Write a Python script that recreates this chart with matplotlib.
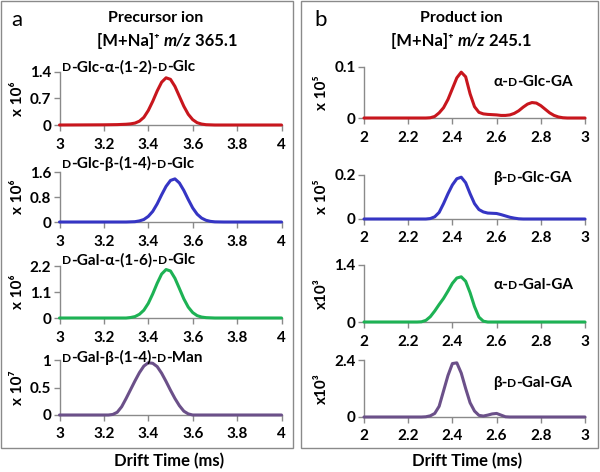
import matplotlib
matplotlib.use("Agg")
import matplotlib.pyplot as plt
from matplotlib.patches import Rectangle
from matplotlib.offsetbox import TextArea, HPacker, AnnotationBbox

plt.rcParams['font.family'] = ['Lato', 'DejaVu Sans']

W, H = 600, 472

# ---------------- data ----------------
# Panel a: precursor ion, drift time (ms) vs intensity
a1_x = [3.00, 3.20, 3.26, 3.30, 3.32, 3.34, 3.36, 3.38, 3.40, 3.42, 3.44, 3.46, 3.48, 3.50, 3.52, 3.54, 3.56, 3.58, 3.60, 3.62, 3.64, 3.66, 3.70, 4.00]
a1_y = [0.0, 0.005, 0.01, 0.02, 0.03, 0.05, 0.10, 0.20, 0.38, 0.62, 0.89, 1.12, 1.235, 1.195, 1.01, 0.75, 0.49, 0.28, 0.14, 0.06, 0.025, 0.008, 0.0, 0.0]

a2_x = [3.00, 3.30, 3.34, 3.36, 3.38, 3.40, 3.42, 3.44, 3.46, 3.48, 3.50, 3.52, 3.54, 3.56, 3.58, 3.60, 3.62, 3.64, 3.66, 3.68, 3.70, 3.74, 4.00]
a2_y = [0.0, 0.0, 0.01, 0.035, 0.08, 0.18, 0.34, 0.58, 0.87, 1.14, 1.33, 1.38, 1.25, 1.01, 0.72, 0.45, 0.25, 0.125, 0.055, 0.02, 0.005, 0.0, 0.0]

a3_x = [3.00, 3.30, 3.32, 3.34, 3.36, 3.38, 3.40, 3.42, 3.44, 3.46, 3.48, 3.50, 3.52, 3.54, 3.56, 3.58, 3.60, 3.62, 3.64, 3.66, 3.70, 4.00]
a3_y = [0.0, 0.0, 0.02, 0.06, 0.157, 0.33, 0.62, 1.02, 1.47, 1.86, 2.05, 1.99, 1.68, 1.25, 0.81, 0.46, 0.23, 0.10, 0.04, 0.015, 0.0, 0.0]

a4_x = [3.00, 3.22, 3.24, 3.26, 3.28, 3.30, 3.32, 3.34, 3.36, 3.38, 3.40, 3.42, 3.44, 3.46, 3.48, 3.50, 3.52, 3.54, 3.56, 3.58, 3.60, 4.00]
a4_y = [0.0, 0.0, 0.01, 0.05, 0.15, 0.30, 0.46, 0.62, 0.77, 0.89, 0.95, 0.94, 0.88, 0.76, 0.61, 0.45, 0.30, 0.17, 0.07, 0.02, 0.0, 0.0]

# Panel b: product ion
b1_x = [2.00, 2.28, 2.30, 2.32, 2.34, 2.36, 2.38, 2.40, 2.42, 2.44, 2.46, 2.48, 2.50, 2.52, 2.54, 2.56, 2.58, 2.60, 2.62, 2.64, 2.66, 2.68, 2.70, 2.72, 2.74, 2.76, 2.78, 2.80, 2.82, 2.84, 2.86, 2.88, 2.90, 2.92, 3.00]
b1_y = [0.0, 0.0, 0.0005, 0.003, 0.01, 0.02, 0.036, 0.057, 0.078, 0.089, 0.08, 0.047, 0.022, 0.011, 0.008, 0.007, 0.0065, 0.006, 0.005, 0.005, 0.006, 0.009, 0.014, 0.021, 0.027, 0.030, 0.029, 0.024, 0.017, 0.010, 0.005, 0.002, 0.0005, 0.0, 0.0]

b2_x = [2.00, 2.28, 2.30, 2.32, 2.34, 2.36, 2.38, 2.40, 2.42, 2.44, 2.46, 2.48, 2.50, 2.52, 2.54, 2.56, 2.58, 2.60, 2.62, 2.64, 2.66, 2.68, 2.70, 2.72, 3.00]
b2_y = [0.0, 0.0, 0.002, 0.01, 0.03, 0.07, 0.115, 0.155, 0.183, 0.19, 0.165, 0.115, 0.07, 0.043, 0.032, 0.027, 0.026, 0.025, 0.02, 0.014, 0.008, 0.004, 0.001, 0.0, 0.0]

b3_x = [2.00, 2.24, 2.26, 2.28, 2.30, 2.32, 2.34, 2.36, 2.38, 2.40, 2.42, 2.44, 2.46, 2.48, 2.50, 2.52, 2.54, 2.56, 3.00]
b3_y = [0.0, 0.0, 0.005, 0.04, 0.13, 0.27, 0.43, 0.58, 0.76, 0.95, 1.08, 1.11, 1.00, 0.72, 0.38, 0.12, 0.02, 0.0, 0.0]

b4_x = [2.00, 2.26, 2.28, 2.30, 2.32, 2.34, 2.36, 2.38, 2.40, 2.42, 2.44, 2.46, 2.48, 2.50, 2.52, 2.54, 2.56, 2.58, 2.60, 2.62, 2.64, 2.66, 3.00]
b4_y = [0.0, 0.0, 0.01, 0.05, 0.15, 0.45, 1.10, 1.75, 2.25, 2.28, 1.85, 1.20, 0.60, 0.25, 0.07, 0.04, 0.08, 0.13, 0.15, 0.08, 0.01, 0.0, 0.0]

a_xticks = [3, 3.2, 3.4, 3.6, 3.8, 4]
a_xticklabels = ["3", "3.2", "3.4", "3.6", "3.8", "4"]
b_xticks = [2, 2.2, 2.4, 2.6, 2.8, 3]
b_xticklabels = ["2", "2.2", "2.4", "2.6", "2.8", "3"]

a_yticks = [[0, 0.7, 1.4], [0, 0.8, 1.6], [0, 1.1, 2.2], [0, 0.5, 1]]
a_yticklabels = [["0", "0.7", "1.4"], ["0", "0.8", "1.6"], ["0", "1.1", "2.2"], ["0", "0.5", "1"]]
b_yticks = [[0, 0.1], [0, 0.2], [0, 1.4], [0, 2.4]]
b_yticklabels = [["0", "0.1"], ["0", "0.2"], ["0", "1.4"], ["0", "2.4"]]

a_units = ["x 10\u2076", "x 10\u2076", "x 10\u2076", "x 10\u2077"]
b_units = ["x 10\u2075", "x 10\u2075", "x10\u00b3", "x10\u00b3"]

# labels: list of (text, smallcap?) pieces
a_names = [
    [("D", True), ("-Glc-\u03b1-(1-2)-", False), ("D", True), ("-Glc", False)],
    [("D", True), ("-Glc-\u03b2-(1-4)-", False), ("D", True), ("-Glc", False)],
    [("D", True), ("-Gal-\u03b1-(1-6)-", False), ("D", True), ("-Glc", False)],
    [("D", True), ("-Gal-\u03b2-(1-4)-", False), ("D", True), ("-Man", False)],
]
b_names = [
    [("\u03b1-", False), ("D", True), ("-Glc-GA", False)],
    [("\u03b2-", False), ("D", True), ("-Glc-GA", False)],
    [("\u03b1-", False), ("D", True), ("-Gal-GA", False)],
    [("\u03b2-", False), ("D", True), ("-Gal-GA", False)],
]

colors = ["#C8161D", "#3535C4", "#1DB254", "#6B5089"]

a_series = [(a1_x, a1_y), (a2_x, a2_y), (a3_x, a3_y), (a4_x, a4_y)]
b_series = [(b1_x, b1_y), (b2_x, b2_y), (b3_x, b3_y), (b4_x, b4_y)]

# ---------------- layout (pixel positions) ----------------
a_left, a_right = 59.5, 281.5
b_left, b_right = 364, 585
a_rows = [(71.5, 125), (172, 222), (266, 318), (360, 415)]
b_rows = [(66.5, 118), (175, 219), (265, 322), (360, 417)]
a_name_pos = [(62, 67), (62, 163), (62, 260), (62, 357)]
b_name_pos = [(493, 82), (493, 178), (493, 285), (493, 383)]

GRAY = "#8a8a8a"
FAM = ['Lato', 'DejaVu Sans']
fig = plt.figure(figsize=(W / 100, H / 100), dpi=100)


def fx(x):
    return x / W


def fy(y):
    return 1 - y / H


def rich(x, y, parts, size, ha=0.0):
    kids = []
    for t, sc in parts:
        kids.append(TextArea(t, textprops=dict(fontsize=size * (0.78 if sc else 1.0),
                                               fontweight='bold', color='black',
                                               family=FAM)))
    box = HPacker(children=kids, align='baseline', pad=0, sep=0)
    ab = AnnotationBbox(box, (fx(x), fy(y)), xycoords='figure fraction',
                        box_alignment=(ha, 0.5), frameon=False, pad=0)
    fig.add_artist(ab)


def make_axes(left, right, top, bottom, xs, ys, color, xticks, xtl, yticks, ytl):
    ax = fig.add_axes([fx(left), fy(bottom), (right - left) / W, (bottom - top) / H])
    ax.plot(xs, ys, color=color, lw=2.2, clip_on=False, zorder=5,
            solid_joinstyle='round', solid_capstyle='round')
    ax.set_xlim(xticks[0], xticks[-1])
    ax.set_ylim(0, yticks[-1])
    ax.set_xticks(xticks)
    ax.set_xticklabels(xtl)
    ax.set_yticks(yticks)
    ax.set_yticklabels(ytl)
    for s in ['top', 'right']:
        ax.spines[s].set_visible(False)
    for s in ['left', 'bottom']:
        ax.spines[s].set_color(GRAY)
        ax.spines[s].set_linewidth(1.0)
    ax.tick_params(axis='both', colors=GRAY, direction='out', length=4, width=1.0,
                   labelcolor='black', labelsize=11)
    ax.tick_params(axis='x', pad=5)
    ax.tick_params(axis='y', pad=2)
    for lab in ax.get_xticklabels() + ax.get_yticklabels():
        lab.set_fontweight('bold')
    ax.patch.set_alpha(0)
    return ax


for i in range(4):
    top, bot = a_rows[i]
    make_axes(a_left, a_right, top, bot, a_series[i][0], a_series[i][1], colors[i],
              a_xticks, a_xticklabels, a_yticks[i], a_yticklabels[i])
    fig.text(fx(18), fy((top + bot) / 2), a_units[i], rotation=90, ha='center', va='center',
             fontsize=11, fontweight='bold')
    rich(a_name_pos[i][0], a_name_pos[i][1], a_names[i], 11, ha=0.0)

    top, bot = b_rows[i]
    make_axes(b_left, b_right, top, bot, b_series[i][0], b_series[i][1], colors[i],
              b_xticks, b_xticklabels, b_yticks[i], b_yticklabels[i])
    fig.text(fx(322), fy((top + bot) / 2), b_units[i], rotation=90, ha='center', va='center',
             fontsize=11, fontweight='bold')
    rich(b_name_pos[i][0], b_name_pos[i][1], b_names[i], 11, ha=0.0)

# panel frames
fig.add_artist(Rectangle((fx(1), fy(448)), 292 / W, 447 / H, transform=fig.transFigure,
                         fill=False, edgecolor=GRAY, lw=1.0))
fig.add_artist(Rectangle((fx(301), fy(448)), 297 / W, 447 / H, transform=fig.transFigure,
                         fill=False, edgecolor=GRAY, lw=1.0))

# panel letters and titles
fig.text(fx(17), fy(20), "a", fontsize=16, ha='center', va='center')
fig.text(fx(321), fy(20), "b", fontsize=16, ha='center', va='center')
fig.text(fx(156), fy(18), "Precursor ion", fontsize=11.5, fontweight='bold', ha='center', va='center')
fig.text(fx(461), fy(18), "Product ion", fontsize=11.5, fontweight='bold', ha='center', va='center')


def title2(xc, value):
    kids = [
        TextArea("[M+Na]\u207a ", textprops=dict(fontsize=12, fontweight='bold', family=FAM)),
        TextArea("m/z", textprops=dict(fontsize=12, fontweight='bold', fontstyle='italic', family=FAM)),
        TextArea(" " + value, textprops=dict(fontsize=12, fontweight='bold', family=FAM)),
    ]
    box = HPacker(children=kids, align='baseline', pad=0, sep=0)
    fig.add_artist(AnnotationBbox(box, (fx(xc), fy(41)), xycoords='figure fraction',
                                  box_alignment=(0.5, 0.5), frameon=False, pad=0))


title2(167, "365.1")
title2(461, "245.1")

fig.text(fx(169), fy(461), "Drift Time (ms)", fontsize=12, fontweight='bold', ha='center', va='center')
fig.text(fx(467), fy(461), "Drift Time (ms)", fontsize=12, fontweight='bold', ha='center', va='center')

fig.savefig("out.png", dpi=100)
